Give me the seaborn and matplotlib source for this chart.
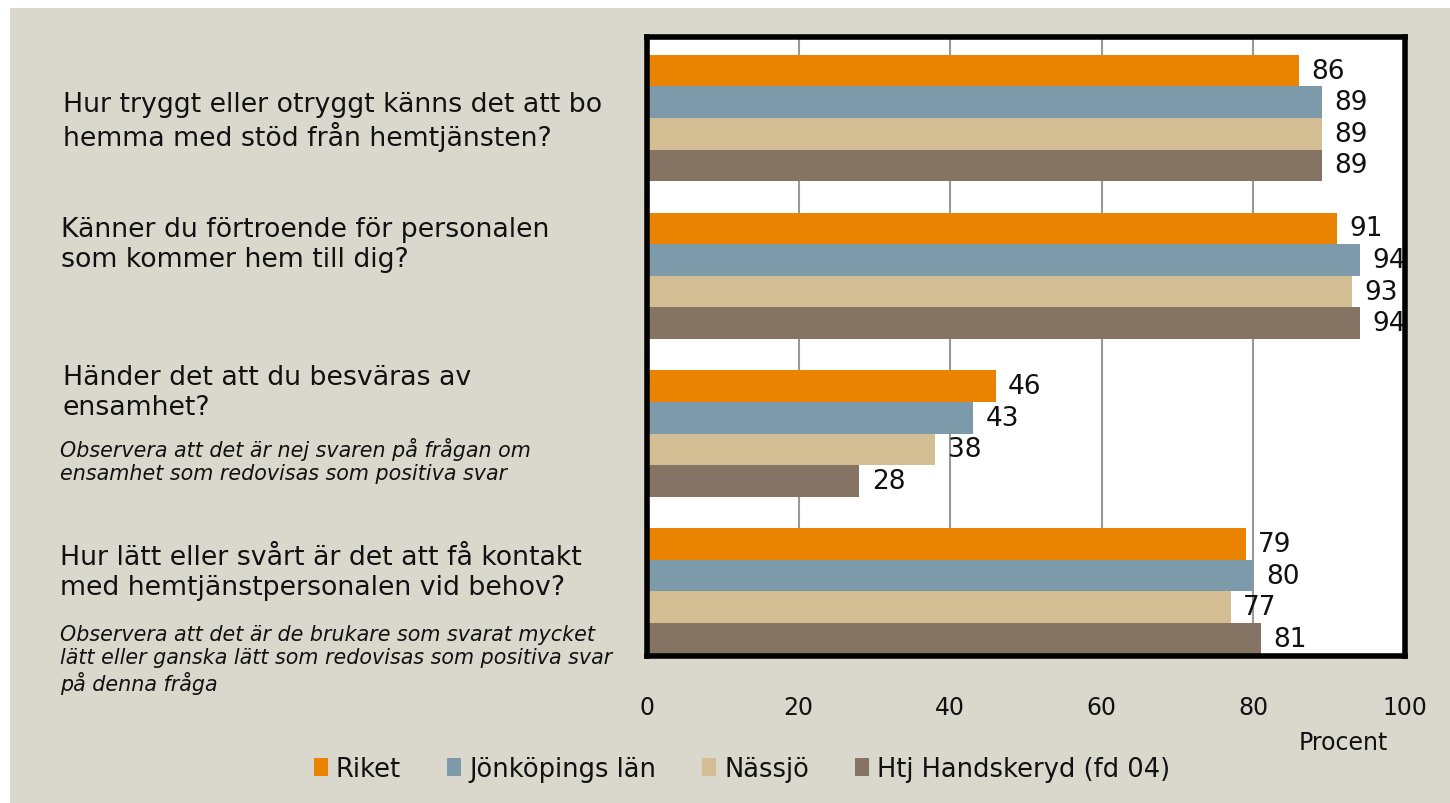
import matplotlib
matplotlib.use("Agg")
import matplotlib.pyplot as plt
import seaborn as sns
import pandas as pd
from matplotlib.patches import Rectangle

sns.set_theme(style="white")
plt.rcParams['font.family'] = ['DejaVu Sans']

questions = ["Q1", "Q2", "Q3", "Q4"]
series = ["Riket", "Jönköpings län", "Nässjö", "Htj Handskeryd (fd 04)"]
riket = [86, 91, 46, 79]
jkpg = [89, 94, 43, 80]
nassjo = [89, 93, 38, 77]
htj = [89, 94, 28, 81]
colors = ["#E98300", "#7D9AAA", "#D3BE94", "#857464"]
xticks = [0, 20, 40, 60, 80, 100]

rows = []
for s, vals in zip(series, [riket, jkpg, nassjo, htj]):
    for q, v in zip(questions, vals):
        rows.append({"q": q, "serie": s, "v": v})
df = pd.DataFrame(rows)

W, H = 1450, 804
fig = plt.figure(figsize=(W / 100, H / 100), dpi=100, facecolor="white")
bg = "#DAD8CC"
fig.patches.append(Rectangle((10 / W, 0), 1 - 10 / W, 1 - 9 / H, transform=fig.transFigure,
                             facecolor=bg, edgecolor="none", zorder=-10))

ax_l, ax_r, ax_t, ax_b = 647, 1405, 38, 657
ax = fig.add_axes([ax_l / W, 1 - ax_b / H, (ax_r - ax_l) / W, (ax_b - ax_t) / H])
ax.set_facecolor("white")

sns.barplot(data=df, y="q", x="v", hue="serie", order=questions, hue_order=series,
            palette=colors, orient="h", width=0.8, ax=ax, legend=False,
            saturation=1, edgecolor="none")

ax.set_xlim(0, 100)
ax.set_ylim(3.41, -0.513)
ax.set_xticks(xticks)
ax.set_xticklabels([str(t) for t in xticks], fontsize=17, color="#111111")
ax.tick_params(axis="x", length=0, pad=28)
ax.set_yticks([])
ax.set_xlabel("")
ax.set_ylabel("")
ax.xaxis.grid(True, color="#999999", linewidth=1.5)
ax.set_axisbelow(True)
for sp in ax.spines.values():
    sp.set_visible(True)
    sp.set_color("black")
    sp.set_linewidth(4)
    sp.set_zorder(5)

for cont in ax.containers:
    for patch, val in zip(cont.patches, cont.datavalues):
        y = patch.get_y() + patch.get_height() / 2
        ax.annotate(f"{val:.0f}", xy=(patch.get_width(), y), xytext=(9, 0),
                    textcoords="offset points", va="center", ha="left",
                    fontsize=19, color="#111111", clip_on=True, annotation_clip=False)

# Left side question texts
qfs = 19.3
nfs = 14.9
def ftext(x, y, s, fs, ls, style="normal"):
    fig.text(x / W, 1 - y / H, s, fontsize=fs, style=style, va="center", ha="left",
             color="#111111", linespacing=ls)

ftext(63, 122, "Hur tryggt eller otryggt känns det att bo\nhemma med stöd från hemtjänsten?", qfs, 1.19)
ftext(61, 245, "Känner du förtroende för personalen\nsom kommer hem till dig?", qfs, 1.19)
ftext(63, 393, "Händer det att du besväras av\nensamhet?", qfs, 1.19)
ftext(60, 461, "Observera att det är nej svaren på frågan om\nensamhet som redovisas som positiva svar", nfs, 1.18, "italic")
ftext(60, 573, "Hur lätt eller svårt är det att få kontakt\nmed hemtjänstpersonalen vid behov?", qfs, 1.19)
ftext(60, 660, "Observera att det är de brukare som svarat mycket\nlätt eller ganska lätt som redovisas som positiva svar\npå denna fråga", nfs, 1.2, "italic")

fig.text(1343 / W, 1 - 743 / H, "Procent", fontsize=17, ha="center", va="center", color="#111111")

handles = [Rectangle((0, 0), 1, 1, facecolor=c, edgecolor="none") for c in colors]
fig.legend(handles, series, loc="center", bbox_to_anchor=(742 / W, 1 - 770 / H), ncol=4,
           frameon=False, fontsize=18.5, handlelength=0.55, handleheight=0.7,
           handletextpad=0.3, columnspacing=1.8, labelcolor="#111111")

fig.savefig("out.png", dpi=100, facecolor=fig.get_facecolor())
